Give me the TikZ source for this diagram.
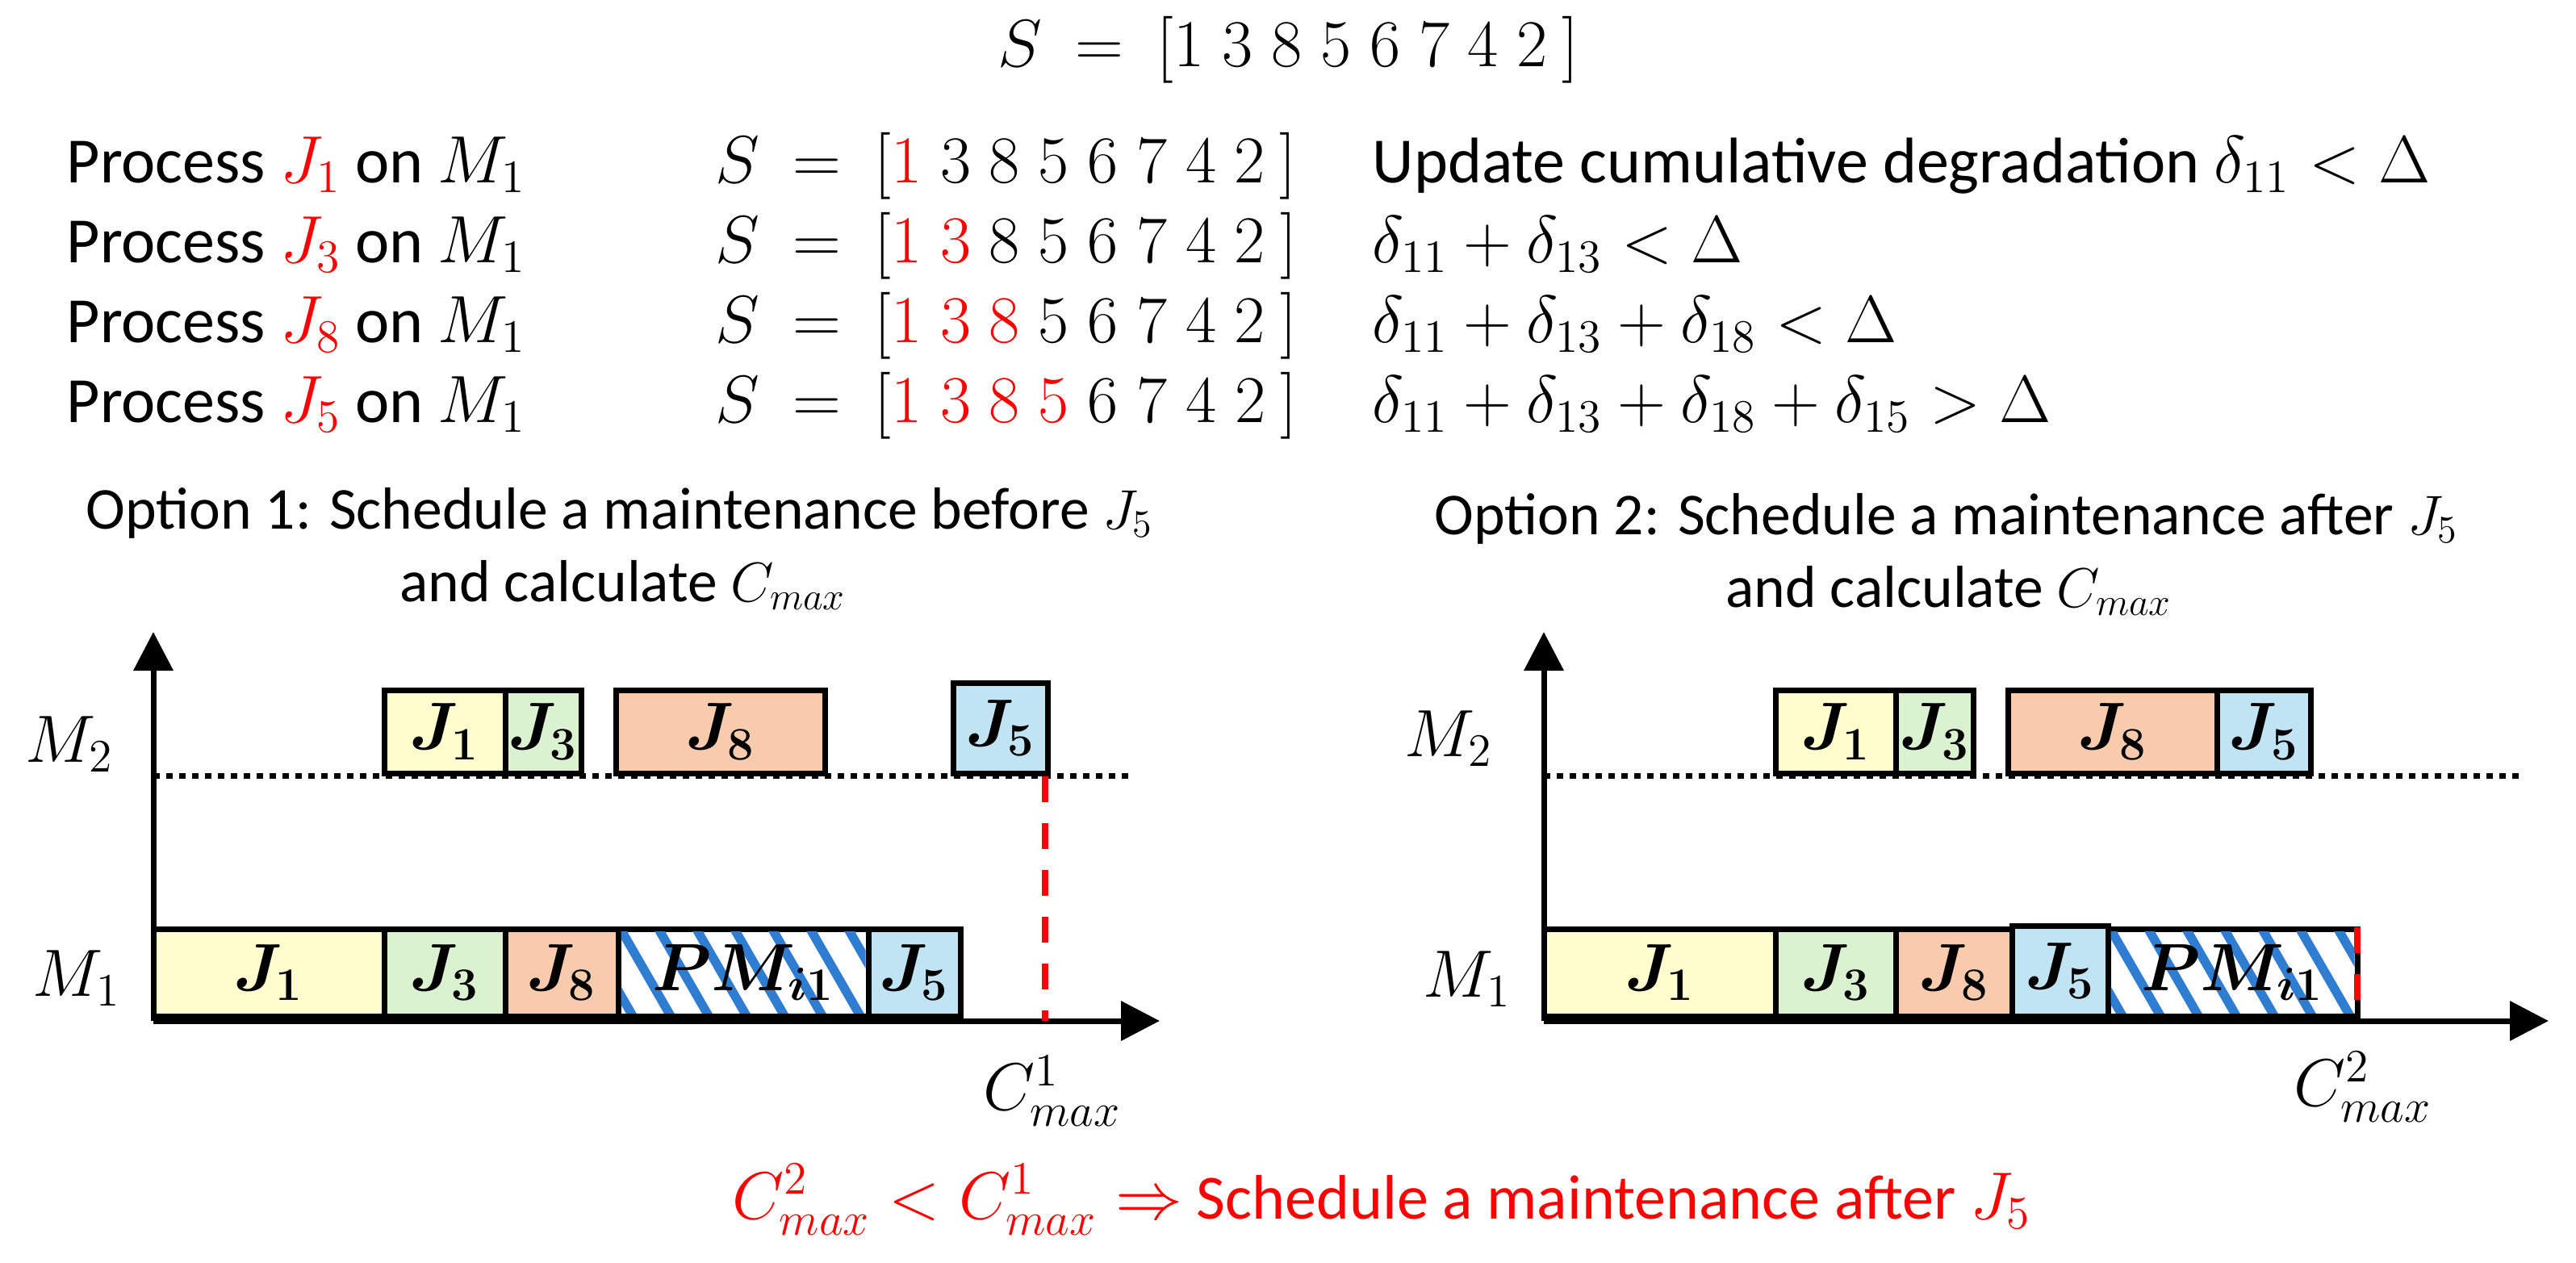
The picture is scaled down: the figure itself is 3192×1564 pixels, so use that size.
\documentclass[tikz,border=0pt]{standalone}
\usepackage{amsmath}
\usepackage{bm}
\usepackage{fontspec}
\setmainfont{Carlito}
\usetikzlibrary{arrows.meta}
\definecolor{jyel}{RGB}{255,253,206}
\definecolor{jgrn}{RGB}{218,242,208}
\definecolor{jorg}{RGB}{248,203,173}
\definecolor{jblu}{RGB}{193,228,245}
\definecolor{pmblu}{RGB}{46,125,208}
\definecolor{myred}{RGB}{255,0,0}
\newcommand{\sgap}{\hspace{5.7pt}}
\newcommand{\blk}[7]{\node[blk, fill=#6, minimum width={(#3-#2)*0.25pt}, minimum height={(#5-#4)*0.25pt}] (#1) at ({(#2+#3)/2},{(#4+#5)/2}) {#7};}
\newcommand{\hatch}[4]{%
  \begin{scope}
    \clip ({#1+3.5},{#3+3.5}) rectangle ({#2-3.5},{#4-3.5});
    \foreach \k in {-94,-47,...,330} \draw[stripe] ({#1+\k},{#3-5}) -- ++(68,118);
  \end{scope}}
\begin{document}
\begin{tikzpicture}[x=0.25pt,y=-0.25pt,
  txt/.style={inner sep=0pt, font=\fontsize{20}{24}\selectfont},
  opt/.style={inner sep=0pt, font=\fontsize{18.4}{22}\selectfont},
  res/.style={inner sep=0pt, text=myred, font=\fontsize{19.5}{23}\selectfont},
  blk/.style={draw=black, line width=1.75pt, inner sep=0pt, outer sep=0pt, font=\fontsize{20}{24}\selectfont},
  axis/.style={line width=1.75pt, -{Triangle[length=12pt,width=12pt]}},
  m2line/.style={line width=1.75pt, dash pattern=on 2pt off 2pt},
  cline/.style={myred, line width=2pt, dash pattern=on 8pt off 6.5pt},
  stripe/.style={pmblu, line width=2.8pt}]
\useasboundingbox (0,0) rectangle (3192,1564);

% ---------- top text ----------
\node[txt, anchor=base] (S0) at (1597,82) {$S\ =\ [1\sgap 3\sgap 8\sgap 5\sgap 6\sgap 7\sgap 4\sgap 2\ ]$};

\node[txt, anchor=base west] (p1) at (82,226) {Process \textcolor{myred}{$J_1$} on $M_1$};
\node[txt, anchor=base west] (p2) at (82,325) {Process \textcolor{myred}{$J_3$} on $M_1$};
\node[txt, anchor=base west] (p3) at (82,424) {Process \textcolor{myred}{$J_8$} on $M_1$};
\node[txt, anchor=base west] (p4) at (82,523) {Process \textcolor{myred}{$J_5$} on $M_1$};

\node[txt, anchor=base west] (s1) at (886,226) {$S\ =\ [\textcolor{myred}{1}\sgap 3\sgap 8\sgap 5\sgap 6\sgap 7\sgap 4\sgap 2\ ]$};
\node[txt, anchor=base west] (s2) at (886,325) {$S\ =\ [\textcolor{myred}{1}\sgap \textcolor{myred}{3}\sgap 8\sgap 5\sgap 6\sgap 7\sgap 4\sgap 2\ ]$};
\node[txt, anchor=base west] (s3) at (886,424) {$S\ =\ [\textcolor{myred}{1}\sgap \textcolor{myred}{3}\sgap \textcolor{myred}{8}\sgap 5\sgap 6\sgap 7\sgap 4\sgap 2\ ]$};
\node[txt, anchor=base west] (s4) at (886,523) {$S\ =\ [\textcolor{myred}{1}\sgap \textcolor{myred}{3}\sgap \textcolor{myred}{8}\sgap \textcolor{myred}{5}\sgap 6\sgap 7\sgap 4\sgap 2\ ]$};

\node[txt, anchor=base west] (d1) at (1700,226) {Update cumulative degradation $\delta_{11} < \Delta$};
\node[txt, anchor=base west] (d2) at (1700,325) {$\delta_{11} + \delta_{13} < \Delta$};
\node[txt, anchor=base west] (d3) at (1700,424) {$\delta_{11} + \delta_{13} + \delta_{18} < \Delta$};
\node[txt, anchor=base west] (d4) at (1700,523) {$\delta_{11} + \delta_{13} + \delta_{18} + \delta_{15} > \Delta$};

% ---------- option titles ----------
\node[opt, anchor=base] (o1a) at (768,655) {Option 1: Schedule a maintenance before $J_5$};
\node[opt, anchor=base] (o1b) at (772,745) {and calculate $C_{max}$};
\node[opt, anchor=base] (o2a) at (2412,662) {Option 2: Schedule a maintenance after $J_5$};
\node[opt, anchor=base] (o2b) at (2415,752) {and calculate $C_{max}$};

% ---------- left chart ----------
\coordinate (lo) at (190,1265);
\coordinate (ly) at (190,783);
\coordinate (lx) at (1437,1265);
\coordinate (lda) at (190,961);
\coordinate (ldb) at (1401,961);
\draw[axis] (lo) -- (ly);
\draw[axis] (lo) -- (lx);
\draw[m2line] (lda) -- (ldb);

\node[txt] (lm2) at (86,922) {$M_2$};
\node[txt] (lm1) at (95,1212) {$M_1$};

\blk{l1J1}{190}{476}{1151}{1259}{jyel}{$\bm{J_1}$}
\blk{l1J3}{476}{626}{1151}{1259}{jgrn}{$\bm{J_3}$}
\blk{l1J8}{626}{766}{1151}{1259}{jorg}{$\bm{J_8}$}
\blk{l1PM}{766}{1076}{1151}{1259}{white}{}
\hatch{766}{1076}{1151}{1259}
\node[txt] (l1PMlab) at (l1PM.center) {$\bm{PM_{i1}}$};
\blk{l1J5}{1076}{1190}{1151}{1259}{jblu}{$\bm{J_5}$}

\blk{l2J1}{476}{626}{855}{958}{jyel}{$\bm{J_1}$}
\blk{l2J3}{626}{720}{855}{958}{jgrn}{$\bm{J_3}$}
\blk{l2J8}{763}{1022}{855}{958}{jorg}{$\bm{J_8}$}
\blk{l2J5}{1181}{1298}{846}{958}{jblu}{$\bm{J_5}$}

\coordinate (lca) at (1295,962);
\coordinate (lcb) at (1295,1265);
\draw[cline] (lca) -- (lcb);
\node[txt] (lc) at (1304,1352) {$C^1_{max}$};

% ---------- right chart ----------
\coordinate (ro) at (1913,1265);
\coordinate (ry) at (1913,783);
\coordinate (rx) at (3158,1265);
\coordinate (rda) at (1913,961);
\coordinate (rdb) at (3127,961);
\draw[axis] (ro) -- (ry);
\draw[axis] (ro) -- (rx);
\draw[m2line] (rda) -- (rdb);

\node[txt] (rm2) at (1795,915) {$M_2$};
\node[txt] (rm1) at (1818,1213) {$M_1$};

\blk{r1J1}{1913}{2200}{1151}{1259}{jyel}{$\bm{J_1}$}
\blk{r1J3}{2200}{2349}{1151}{1259}{jgrn}{$\bm{J_3}$}
\blk{r1J8}{2349}{2493}{1151}{1259}{jorg}{$\bm{J_8}$}
\blk{r1J5}{2493}{2612}{1147}{1259}{jblu}{$\bm{J_5}$}
\blk{r1PM}{2612}{2921}{1151}{1259}{white}{}
\hatch{2612}{2921}{1151}{1259}
\node[txt] (r1PMlab) at (r1PM.center) {$\bm{PM_{i1}}$};

\blk{r2J1}{2200}{2349}{855}{958}{jyel}{$\bm{J_1}$}
\blk{r2J3}{2349}{2445}{855}{958}{jgrn}{$\bm{J_3}$}
\blk{r2J8}{2488}{2747}{855}{958}{jorg}{$\bm{J_8}$}
\blk{r2J5}{2747}{2863}{855}{958}{jblu}{$\bm{J_5}$}

\coordinate (rca) at (2921,1149);
\coordinate (rcb) at (2921,1262);
\draw[cline] (rca) -- (rcb);
\node[txt] (rc) at (2928,1347) {$C^2_{max}$};

% ---------- conclusion ----------
\node[res, anchor=base] (concl) at (1712,1510) {$C^2_{max} < C^1_{max} \Rightarrow$ Schedule a maintenance after $J_5$};
\end{tikzpicture}
\end{document}
